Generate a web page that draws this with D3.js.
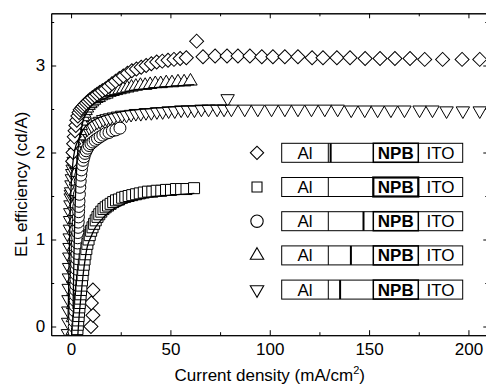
<!DOCTYPE html>
<html>
<head>
<meta charset="utf-8">
<script src="https://cdn.jsdelivr.net/npm/d3@7"></script>
<style>
  body { margin: 0; background: #fff; }
  svg { display: block; font-family: Arial, "Liberation Sans", Helvetica, sans-serif; }
</style>
</head>
<body>
<svg id="chart" width="486" height="388"></svg>
<script>
// ---- Axis ticks ----
const xMajor = [0, 50, 100, 150, 200];
const xMinor = [25, 75, 125, 175];
const yMajor = [0, 1, 2, 3];
const yMinor = [0.5, 1.5, 2.5, 3.5];

// ---- Device series: current density (mA/cm2) vs EL efficiency (cd/A) ----
// Diamonds
const dX = [10.0, 11.0, 10.2, 11.0,
  0.8, 1.0, 1.3, 1.6, 2.0, 2.4, 2.9, 3.4, 4.0, 4.6, 5.3, 6.0, 6.8, 7.7, 8.6, 9.6,
  10.7, 11.9, 13.1, 14.4, 15.8, 17.3, 18.9, 20.6, 22.4, 24.3, 26.3, 28.4, 30.6, 32.9,
  35.3, 37.8, 40.4, 43.1, 45.9, 48.8, 51.8, 54.9, 58.0, 63.2, 66.4, 72.5, 78.5, 84.0,
  90.0, 96.0, 101.6, 107.6, 114.2, 121.3, 126.8, 133.8, 140.4, 148.0, 155.5, 163.0,
  170.6, 178.0, 187.0, 196.8, 205.7];
const dY = [0.00, 0.13, 0.27, 0.42,
  1.90, 2.00, 2.10, 2.18, 2.25, 2.31, 2.37, 2.42, 2.46, 2.49, 2.51, 2.53, 2.55, 2.57, 2.59, 2.61,
  2.63, 2.65, 2.67, 2.69, 2.71, 2.73, 2.76, 2.79, 2.82, 2.85, 2.88, 2.91, 2.94, 2.96,
  2.98, 3.00, 3.02, 3.04, 3.05, 3.06, 3.07, 3.08, 3.09, 3.28, 3.10, 3.11, 3.11, 3.11,
  3.11, 3.10, 3.10, 3.10, 3.10, 3.09, 3.09, 3.09, 3.09, 3.08, 3.08, 3.08,
  3.08, 3.07, 3.07, 3.07, 3.07];

// Squares
const sX = [3.0, 3.2, 3.4, 3.6, 3.8, 4.0, 4.2, 4.4, 4.6, 4.8, 5.0, 5.2,
  5.5, 5.8, 6.1, 6.4, 6.8, 7.2, 7.7, 8.2,
  8.8, 9.4, 10.1, 10.8, 11.6, 12.4, 13.3, 14.2, 15.2, 16.3,
  17.4, 18.6, 19.9, 21.2, 22.6, 24.1, 25.7, 27.3, 29.0, 30.8,
  32.7, 34.6, 36.6, 38.7, 40.9, 43.1, 45.4, 47.8, 50.3, 52.8,
  55.4, 58.1, 61.9];
const sY = [-0.08, -0.03, 0.02, 0.07, 0.12, 0.17, 0.22, 0.27, 0.32, 0.37, 0.42, 0.47,
  0.53, 0.59, 0.65, 0.71, 0.77, 0.83, 0.89, 0.95,
  1.00, 1.05, 1.10, 1.14, 1.18, 1.22, 1.26, 1.29, 1.32, 1.35,
  1.37, 1.39, 1.41, 1.43, 1.45, 1.46, 1.48, 1.49, 1.50, 1.51,
  1.52, 1.53, 1.54, 1.55, 1.55, 1.56, 1.56, 1.57, 1.57, 1.58,
  1.58, 1.58, 1.59];

// Circles
const cX = [1.5, 1.6, 1.7, 1.8, 1.9, 2.0, 2.1, 2.2, 2.3, 2.4, 2.5, 2.6, 2.7, 2.8, 2.9,
  3.0, 3.1, 3.2, 3.3, 3.4, 3.5, 3.6, 3.7, 3.8, 3.9, 4.0,
  4.2, 4.4, 4.6, 4.9, 5.2, 5.6, 6.0, 6.5, 7.0, 7.6, 8.3, 9.1, 10.0, 11.0, 12.1,
  13.3, 14.6, 16.0, 17.5, 19.1, 20.8, 22.6, 24.6];
const cY = [-0.06, 0.00, 0.06, 0.12, 0.18, 0.24, 0.30, 0.36, 0.42, 0.48, 0.54, 0.60, 0.66, 0.72, 0.78,
  0.84, 0.90, 0.96, 1.02, 1.08, 1.14, 1.20, 1.26, 1.32, 1.38, 1.44,
  1.52, 1.60, 1.67, 1.74, 1.80, 1.86, 1.91, 1.95, 1.99, 2.02, 2.05, 2.08, 2.10, 2.12, 2.14,
  2.16, 2.18, 2.20, 2.22, 2.23, 2.25, 2.26, 2.28];

// Up triangles
const tX = [0.8, 0.9, 1.0, 1.1, 1.2, 1.3, 1.4, 1.5, 1.6, 1.7, 1.8, 1.9, 2.0, 2.2, 2.4, 2.6, 2.8,
  3.0, 3.3, 3.6, 4.0, 4.4, 4.9, 5.4, 6.0, 6.6, 7.3, 8.0, 8.8, 9.7, 10.6, 11.6, 12.7,
  13.9, 15.1, 16.4, 17.8, 19.3, 20.9, 22.6, 24.4, 26.3, 28.3, 30.4, 32.6, 34.9, 37.3,
  39.8, 42.4, 45.1, 47.9, 50.8, 53.8, 56.9, 60.1];
const tY = [-0.05, 0.10, 0.25, 0.40, 0.55, 0.68, 0.80, 0.92, 1.03, 1.13, 1.23, 1.32, 1.41, 1.55, 1.67, 1.77, 1.86,
  1.94, 2.03, 2.11, 2.19, 2.25, 2.31, 2.36, 2.41, 2.45, 2.48, 2.51, 2.54, 2.56, 2.58, 2.60, 2.62,
  2.63, 2.65, 2.66, 2.67, 2.69, 2.70, 2.71, 2.72, 2.73, 2.74, 2.75, 2.76, 2.77, 2.77,
  2.78, 2.79, 2.79, 2.80, 2.80, 2.81, 2.81, 2.82];

// Down triangles
const vX = [-1.6, -1.5, -1.4, -1.3, -1.2, -1.1, -1.0, -0.9, -0.8, -0.7, -0.6, -0.5, -0.4, -0.3, -0.2, -0.1,
  0.0, 0.2, 0.4, 0.6, 0.8, 1.0, 1.3, 1.6, 2.0, 2.4, 2.9, 3.4, 4.0, 4.7, 5.4, 6.2, 7.1, 8.1,
  9.2, 10.4, 11.7, 13.1, 14.6, 16.2, 17.9, 19.7, 21.6, 23.6, 25.7, 27.9, 30.2, 32.6, 35.1,
  37.7, 40.4, 43.2, 46.1, 49.1, 52.2, 55.4, 58.7, 62.1, 65.6, 69.2, 73.5, 77.0, 78.8, 80.7,
  87.4, 94.0, 100.9, 107.6, 114.2, 121.0, 127.7, 134.2, 141.0, 147.8, 154.3, 161.0, 167.8,
  175.4, 181.9, 189.0, 197.2, 205.7];
const vY = [-0.08, 0.05, 0.18, 0.31, 0.44, 0.56, 0.68, 0.80, 0.91, 1.02, 1.12, 1.22, 1.31, 1.40, 1.48, 1.52,
  1.55, 1.63, 1.70, 1.76, 1.81, 1.85, 1.90, 1.95, 2.00, 2.04, 2.07, 2.09, 2.12, 2.16, 2.19, 2.22, 2.25, 2.27,
  2.29, 2.31, 2.33, 2.35, 2.36, 2.38, 2.39, 2.40, 2.41, 2.42, 2.43, 2.43, 2.44, 2.45, 2.45,
  2.46, 2.46, 2.47, 2.47, 2.48, 2.48, 2.49, 2.49, 2.49, 2.50, 2.50, 2.50, 2.50, 2.62, 2.50,
  2.50, 2.50, 2.50, 2.50, 2.50, 2.50, 2.50, 2.50, 2.49, 2.49, 2.49, 2.49, 2.49,
  2.49, 2.49, 2.48, 2.48, 2.48];

// Fitted curves
const sFitX = [3.4, 4, 5, 6, 7, 8, 10, 12, 15, 20, 25, 30, 40, 50, 62];
const sFitY = [-0.10, 0.10, 0.35, 0.58, 0.76, 0.90, 1.03, 1.13, 1.22, 1.33, 1.39, 1.44, 1.49, 1.51, 1.53];
const tFitX = [1.0, 1.5, 2, 3, 4, 5, 6, 8, 10, 13, 16, 20, 25, 30, 40, 50, 62];
const tFitY = [0.20, 0.87, 1.36, 1.90, 2.14, 2.25, 2.36, 2.46, 2.53, 2.58, 2.61, 2.65, 2.68, 2.71, 2.74, 2.76, 2.78];
const vFitX = [-1.5, -1, -0.5, 0, 1, 2, 4, 6, 10, 15, 20, 30, 40, 50, 60, 70, 78.8];
const vFitY = [0.10, 0.72, 1.27, 1.60, 1.90, 2.04, 2.16, 2.26, 2.35, 2.41, 2.445, 2.485, 2.505, 2.525, 2.535, 2.545, 2.545];

// Legend: device stack layers and the position of the thin interlayer
// (fraction of the way from the Al side to NPB; null = none)
const layerNames = ["Al", "", "NPB", "ITO"];
const interlayer = [0.03, null, 0.76, 0.48, 0.24];

// ---- Scales ----
const x = d3.scaleLinear().domain([-10, 210]).range([51.2, 488.3]);
const y = d3.scaleLinear().domain([-0.1, 3.6]).range([335.2, 13.3]);

const svg = d3.select("#chart");

svg.append("defs").append("clipPath").attr("id", "plot")
  .append("rect")
  .attr("x", x(-10)).attr("y", y(3.6))
  .attr("width", x(210) - x(-10)).attr("height", y(-0.1) - y(3.6));

// ---- Markers ----
const series = [
  { xs: vX, ys: vY, type: d3.symbolTriangle, size: 78, rot: 180 },
  { xs: tX, ys: tY, type: d3.symbolTriangle, size: 78, rot: 0 },
  { xs: dX, ys: dY, type: d3.symbolSquare, size: 98, rot: 45 },
  { xs: cX, ys: cY, type: d3.symbolCircle, size: 113, rot: 0 },
  { xs: sX, ys: sY, type: d3.symbolSquare, size: 121, rot: 0 }
];

const plot = svg.append("g").attr("clip-path", "url(#plot)");

series.forEach(s => {
  const pts = s.xs.map((v, i) => [v, s.ys[i]]);
  const path = d3.symbol().type(s.type).size(s.size)();
  plot.append("g").selectAll("path").data(pts).join("path")
    .attr("d", path)
    .attr("transform", d => `translate(${x(d[0])},${y(d[1])}) rotate(${s.rot})`)
    .attr("fill", "#fff")
    .attr("stroke", "#000")
    .attr("stroke-width", 1);
});

// ---- Fitted curves ----
const line = d3.line().x(d => x(d[0])).y(d => y(d[1])).curve(d3.curveMonotoneX);
[[sFitX, sFitY], [tFitX, tFitY], [vFitX, vFitY]].forEach(([fx, fy]) => {
  plot.append("path")
    .datum(fx.map((v, i) => [v, fy[i]]))
    .attr("d", line)
    .attr("fill", "none")
    .attr("stroke", "#000")
    .attr("stroke-width", 1.3);
});

// ---- Axes (ticks pointing inward on all four sides) ----
function styleAxis(g) {
  g.selectAll("path, line").attr("stroke", "#000").attr("stroke-width", 1);
  g.selectAll("text").attr("font-size", 17).attr("fill", "#000");
}
const yBottom = y(-0.1), yTop = y(3.6), xLeft = x(-10), xRight = x(210);

svg.append("g").attr("transform", `translate(0,${yBottom})`)
  .call(d3.axisBottom(x).tickValues(xMajor).tickSizeInner(-5).tickSizeOuter(0).tickPadding(8))
  .call(styleAxis);
svg.append("g").attr("transform", `translate(0,${yBottom})`)
  .call(d3.axisBottom(x).tickValues(xMinor).tickSizeInner(-3).tickSizeOuter(0).tickFormat(""))
  .call(styleAxis);
svg.append("g").attr("transform", `translate(0,${yTop})`)
  .call(d3.axisTop(x).tickValues(xMajor).tickSizeInner(-5).tickSizeOuter(0).tickFormat(""))
  .call(styleAxis);
svg.append("g").attr("transform", `translate(0,${yTop})`)
  .call(d3.axisTop(x).tickValues(xMinor).tickSizeInner(-3).tickSizeOuter(0).tickFormat(""))
  .call(styleAxis);

svg.append("g").attr("transform", `translate(${xLeft},0)`)
  .call(d3.axisLeft(y).tickValues(yMajor).tickSizeInner(-5).tickSizeOuter(0).tickPadding(6).tickFormat(d3.format("d")))
  .call(styleAxis);
svg.append("g").attr("transform", `translate(${xLeft},0)`)
  .call(d3.axisLeft(y).tickValues(yMinor).tickSizeInner(-3).tickSizeOuter(0).tickFormat(""))
  .call(styleAxis);
svg.append("g").attr("transform", `translate(${xRight},0)`)
  .call(d3.axisRight(y).tickValues(yMajor).tickSizeInner(-5).tickSizeOuter(0).tickFormat(""))
  .call(styleAxis);
svg.append("g").attr("transform", `translate(${xRight},0)`)
  .call(d3.axisRight(y).tickValues(yMinor).tickSizeInner(-3).tickSizeOuter(0).tickFormat(""))
  .call(styleAxis);

// ---- Axis titles ----
svg.append("text")
  .attr("transform", `translate(27,${(yTop + yBottom) / 2 + 10}) rotate(-90)`)
  .attr("text-anchor", "middle")
  .attr("font-size", 17)
  .text("EL efficiency (cd/A)");

const xt = svg.append("text")
  .attr("x", (xLeft + xRight) / 2).attr("y", 381)
  .attr("text-anchor", "middle")
  .attr("font-size", 17);
xt.append("tspan").text("Current density (mA/cm");
xt.append("tspan").attr("dy", -7).attr("font-size", 11).text("2");
xt.append("tspan").attr("dy", 7).text(")");

// ---- Legend: marker + device stack ----
const legendMarkers = [
  { type: d3.symbolSquare, size: 88, rot: 45 },
  { type: d3.symbolSquare, size: 100, rot: 0 },
  { type: d3.symbolCircle, size: 120, rot: 0 },
  { type: d3.symbolTriangle, size: 78, rot: 0 },
  { type: d3.symbolTriangle, size: 78, rot: 180 }
];
const boxL = 281.7, boxR = 462.7, boxH = 19;
const div1 = 328.3, div2 = 373.3, div3 = 418.3;
const rowTop0 = 143.3, rowStep = 34.2;

legendMarkers.forEach((m, i) => {
  const top = rowTop0 + i * rowStep;
  const cy = top + boxH / 2;
  const g = svg.append("g");
  g.append("path")
    .attr("d", d3.symbol().type(m.type).size(m.size)())
    .attr("transform", `translate(257,${cy}) rotate(${m.rot})`)
    .attr("fill", "#fff").attr("stroke", "#000").attr("stroke-width", 1.1);

  g.append("rect")
    .attr("x", boxL).attr("y", top).attr("width", boxR - boxL).attr("height", boxH)
    .attr("fill", "#fff").attr("stroke", "#000").attr("stroke-width", 1);
  g.append("line").attr("x1", div1).attr("x2", div1).attr("y1", top).attr("y2", top + boxH)
    .attr("stroke", "#000").attr("stroke-width", 1);
  g.append("rect")
    .attr("x", div2).attr("y", top).attr("width", div3 - div2).attr("height", boxH)
    .attr("fill", "none").attr("stroke", "#000").attr("stroke-width", i === 1 ? 2.2 : 1.5);
  if (interlayer[i] !== null) {
    const lx = div1 + interlayer[i] * (div2 - div1) + 1;
    g.append("line").attr("x1", lx).attr("x2", lx).attr("y1", top).attr("y2", top + boxH)
      .attr("stroke", "#000").attr("stroke-width", 2);
  }
  const centers = [(boxL + div1) / 2, (div1 + div2) / 2, (div2 + div3) / 2, (div3 + boxR) / 2];
  layerNames.forEach((name, k) => {
    if (!name) return;
    g.append("text")
      .attr("x", centers[k]).attr("y", cy + 6)
      .attr("text-anchor", "middle")
      .attr("font-size", 17)
      .attr("font-weight", name === "NPB" ? "bold" : "normal")
      .text(name);
  });
});
</script>
</body>
</html>
